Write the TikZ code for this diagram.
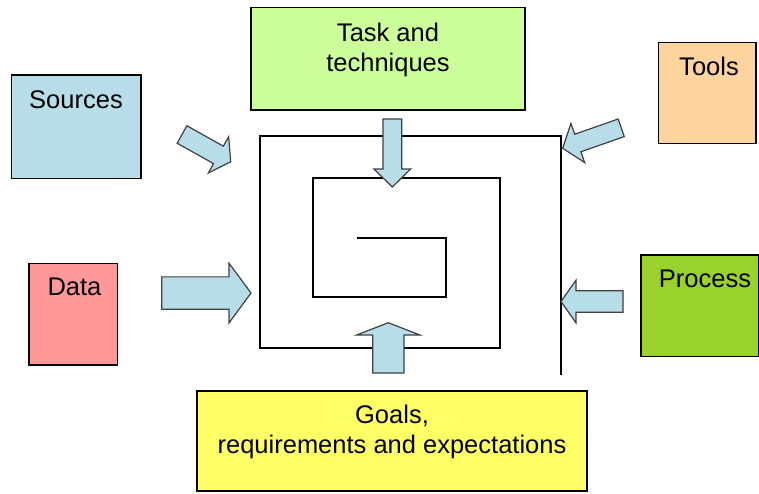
\documentclass[tikz,border=0pt]{standalone}
\usepackage{fontspec}
\setmainfont{Liberation Sans}
\begin{document}
% Units: one unit = 1pt, y axis pointing down
\begin{tikzpicture}[x=1pt,y=-1pt,
  box/.style={draw=black, line width=1.5pt, rectangle, inner sep=0pt, outer sep=0pt},
  lbl/.style={anchor=base, inner sep=0pt, text=black,
              font=\fontsize{25.5}{30}\selectfont},
  spiral/.style={draw=black, line width=2pt, line cap=butt, line join=miter},
  blockstyle/.style={draw=black!75, line width=1.2pt, fill=arrowblue, line join=miter}
]
\definecolor{srcblue}{HTML}{B7DDE8}
\definecolor{arrowblue}{HTML}{B7DDE8}
\definecolor{taskgreen}{HTML}{CCFF99}
\definecolor{toolpeach}{HTML}{FDD39E}
\definecolor{datared}{HTML}{FF9999}
\definecolor{procgreen}{HTML}{99D22C}
\definecolor{goalyellow}{HTML}{FFFF66}

% block arrow: tail centre (x,y), direction (deg, y down), length, shaft width, head width, head length
\newcommand\blockarrow[7]{%
  \draw[blockstyle, shift={(#1,#2)}, rotate=-#3]
    (0,{-#5/2}) -- ({#4-#7},{-#5/2}) -- ({#4-#7},{-#6/2}) -- (#4,0)
    -- ({#4-#7},{#6/2}) -- ({#4-#7},{#5/2}) -- (0,{#5/2}) -- cycle;}

\useasboundingbox (0,0) rectangle (759,493);

% boxes
\node[box, fill=srcblue,   minimum width=129.3, minimum height=103.3] (sources) at (76.3,126.7) {};
\node[box, fill=taskgreen, minimum width=274,   minimum height=102.7] (task)    at (388,58.7) {};
\node[box, fill=toolpeach, minimum width=97.7,  minimum height=101]   (tools)   at (707.2,92.8) {};
\node[box, fill=datared,   minimum width=88.7,  minimum height=101.7] (data)    at (73.3,314.2) {};
\node[box, fill=procgreen, minimum width=118,   minimum height=101.7] (process) at (700,305.8) {};
\node[box, fill=goalyellow,minimum width=390,   minimum height=100]   (goals)   at (392,441) {};

% labels
\node[lbl] (sourcesT) at (76,108) {Sources};
\node[lbl] (taskT) at (388,41.5) {\setlength\tabcolsep{0pt}\begin{tabular}[t]{c}Task and\\techniques\end{tabular}};
\node[lbl] (toolsT) at (709,75) {Tools};
\node[lbl] (dataT) at (74.5,295) {Data};
\node[lbl] (processT) at (705,287) {Process};
\node[lbl] (goalsT) at (392,423) {\setlength\tabcolsep{0pt}\begin{tabular}[t]{c}Goals,\\requirements and expectations\end{tabular}};

% spiral
\draw[spiral] (357,238) -- (445.5,238) -- (445.5,297) -- (313,297) -- (313,178)
  -- (499.5,178) -- (499.5,348) -- (260,348) -- (260,135.5) -- (561,135.5) -- (561,375);

% block arrows
\blockarrow{182}{134.5}{29.2}{55.8}{20}{41.5}{14}
\blockarrow{621.2}{127.8}{160.7}{62}{18.6}{41.4}{16}
\blockarrow{392.3}{119}{90}{68}{18.7}{36.7}{18}
\blockarrow{388.3}{373}{-90}{50.3}{31.3}{63.3}{12.3}
\blockarrow{161.7}{293}{0}{89.3}{32.3}{59.7}{22}
\blockarrow{623}{301.5}{180}{62}{21.6}{42.7}{15}
\end{tikzpicture}
\end{document}
